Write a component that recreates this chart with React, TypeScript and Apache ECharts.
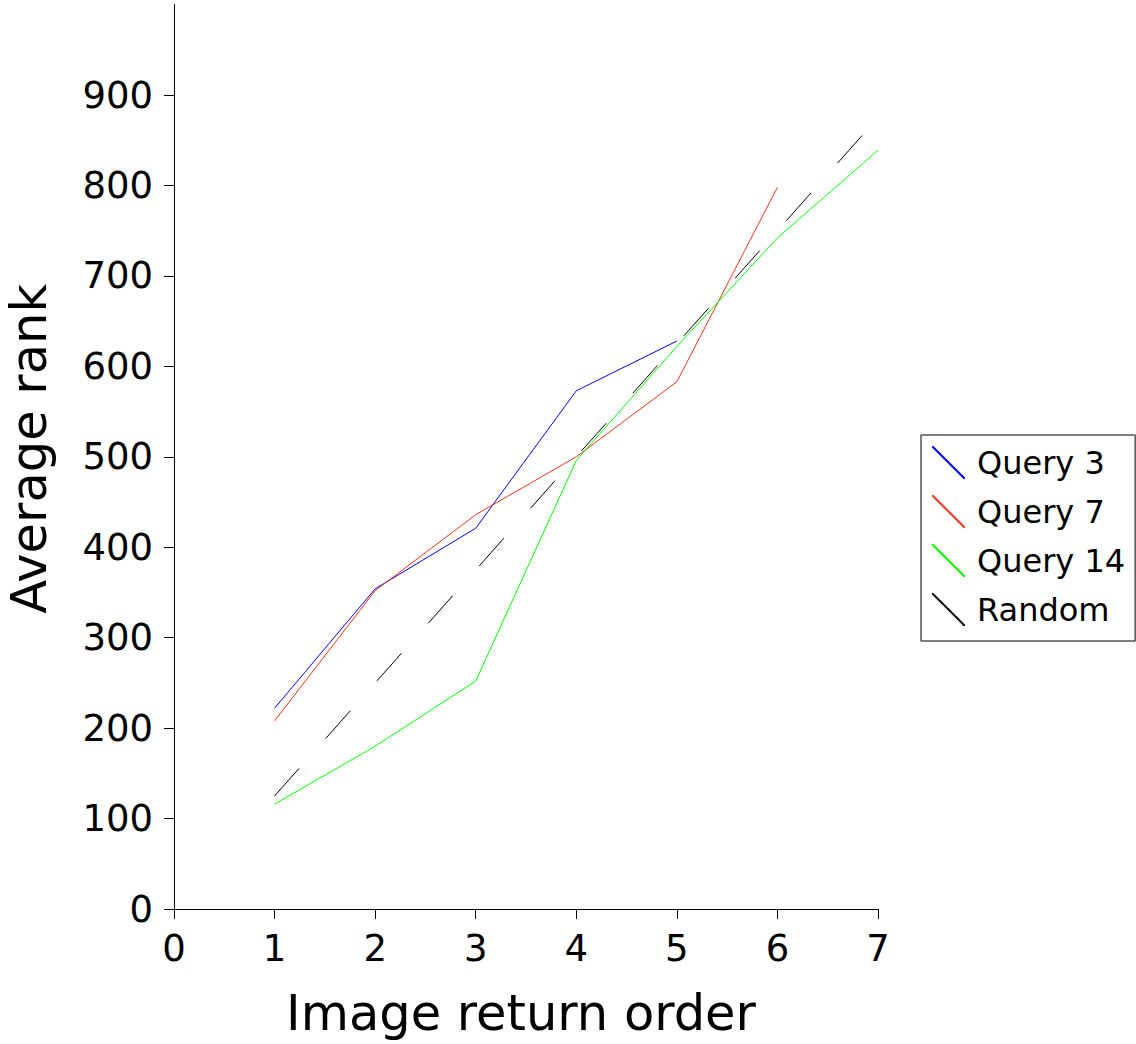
import React, { useEffect, useRef } from "react";
import * as echarts from "echarts";

const xOrder = [1, 2, 3, 4, 5, 6, 7];
const query3 = [222, 354, 421, 573, 628];
const query7 = [208, 352, 436, 500, 583, 798];
const query14 = [116, 180, 252, 496, 622, 742, 839];
const randomRank = [125, 250, 375, 500, 625, 750, 875];
const yTicks = [0, 100, 200, 300, 400, 500, 600, 700, 800, 900];
const seriesNames = ["Query 3", "Query 7", "Query 14", "Random"];
const colors = ["#0000ff", "#ee3311", "#00ff00", "#000000"];

const FONT = "DejaVu Sans";
const ICON = "path://M0,0 L1.4,0 L33,31.6 L33,33 L31.6,33 L0,1.4 Z";

function pairs(vals: number[]) {
  return vals.map((v, i) => [xOrder[i], v]);
}

export default function App() {
  const ref = useRef<HTMLDivElement>(null);
  useEffect(() => {
    if (!ref.current) return;
    const chart = echarts.init(ref.current, null, { renderer: "svg" });
    const data = [query3, query7, query14, randomRank];
    chart.setOption({
      animation: false,
      textStyle: { fontFamily: FONT },
      grid: {
        left: 174,
        right: 258,
        top: 4.6,
        bottom: 135,
        containLabel: false,
        outerBoundsMode: "none",
      },
      legend: {
        orient: "vertical",
        left: 921,
        top: 435,
        padding: [11, 10, 15, 11],
        borderColor: "#000",
        borderWidth: 1,
        itemWidth: 33,
        itemHeight: 33,
        itemGap: 16,
        icon: ICON,
        data: seriesNames,
        textStyle: { fontFamily: FONT, fontSize: 32, color: "#000", padding: [0, 0, 0, 7] },
      },
      xAxis: {
        type: "value",
        min: 0,
        max: 7,
        interval: 1,
        name: "Image return order",
        nameLocation: "middle",
        nameGap: 79,
        nameTextStyle: { fontFamily: FONT, fontSize: 49.5, color: "#000", padding: [0, 10, 0, 0] },
        axisLine: { onZero: false, lineStyle: { color: "#000", width: 1 } },
        axisTick: { show: true, length: 10, lineStyle: { color: "#000" } },
        axisLabel: { fontFamily: FONT, fontSize: 37, color: "#000", margin: 21 },
        splitLine: { show: false },
      },
      yAxis: {
        type: "value",
        min: 0,
        max: 1000,
        interval: 100,
        name: "Average rank",
        nameLocation: "middle",
        nameGap: 120,
        nameTextStyle: { fontFamily: FONT, fontSize: 49.5, color: "#000", padding: [0, 0, 0, 16] },
        axisLine: { show: true, onZero: false, lineStyle: { color: "#000", width: 1 } },
        axisTick: { show: true, length: 10, lineStyle: { color: "#000" }, customValues: yTicks },
        axisLabel: { fontFamily: FONT, fontSize: 37, color: "#000", margin: 21, customValues: yTicks },
        splitLine: { show: false },
      },
      series: seriesNames.map((name, i) => ({
        name,
        type: "line",
        data: pairs(data[i]),
        showSymbol: false,
        symbol: "none",
        color: colors[i],
        lineStyle: {
          color: colors[i],
          width: 1,
          type: i === 3 ? [37, 40] : "solid",
        },
        itemStyle: { color: colors[i] },
        z: i === 3 ? 1 : 2,
      })),
    });
    return () => chart.dispose();
  }, []);
  return <div ref={ref} style={{ width: 1136, height: 1044, position: "absolute", left: 0, top: 0 }} />;
}
